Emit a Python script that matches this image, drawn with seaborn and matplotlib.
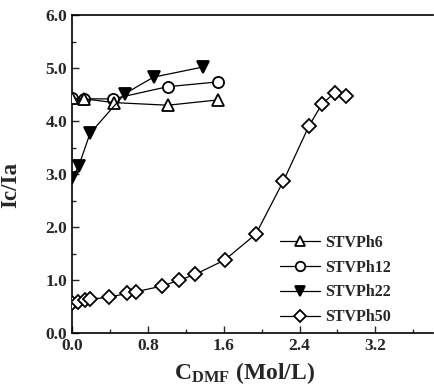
import numpy as np
import pandas as pd
import seaborn as sns
import matplotlib
matplotlib.use("Agg")
import matplotlib.pyplot as plt
from matplotlib.ticker import MultipleLocator

# Data
x_ph6 = [0.0, 0.13, 0.44, 1.01, 1.54]
y_ph6 = [4.43, 4.42, 4.35, 4.30, 4.40]

x_ph12 = [0.0, 0.13, 0.43, 1.01, 1.54]
y_ph12 = [4.44, 4.42, 4.42, 4.65, 4.74]

x_ph22 = [0.0, 0.07, 0.19, 0.56, 0.86, 1.38]
y_ph22 = [2.92, 3.15, 3.77, 4.52, 4.83, 5.02]

x_ph50 = [0.0, 0.06, 0.14, 0.19, 0.39, 0.58, 0.67, 0.95, 1.13, 1.30,
          1.61, 1.94, 2.23, 2.50, 2.64, 2.77, 2.89]
y_ph50 = [0.57, 0.58, 0.62, 0.64, 0.68, 0.75, 0.78, 0.89, 1.00, 1.11,
          1.38, 1.87, 2.87, 3.91, 4.33, 4.53, 4.48]

series_names = ["STVPh6", "STVPh12", "STVPh22", "STVPh50"]

frames = []
for name, xs, ys in zip(series_names, [x_ph6, x_ph12, x_ph22, x_ph50],
                        [y_ph6, y_ph12, y_ph22, y_ph50]):
    frames.append(pd.DataFrame({"x": xs, "y": ys, "series": name}))
df = pd.concat(frames, ignore_index=True)

sns.set_style("ticks")
plt.rcParams["font.family"] = ["Liberation Serif", "DejaVu Serif"]
plt.rcParams["font.weight"] = "bold"
plt.rcParams["mathtext.fontset"] = "custom"
plt.rcParams["mathtext.rm"] = "Liberation Serif:bold"
plt.rcParams["mathtext.it"] = "Liberation Serif:bold"
plt.rcParams["mathtext.bf"] = "Liberation Serif:bold"

fig = plt.figure(figsize=(4.34, 3.87), dpi=100)
ax = fig.add_axes([0.166, 0.139, 0.832, 0.822])

styles = {
    "STVPh6": dict(marker="^", mfc="white", ms=8.5, z=4),
    "STVPh12": dict(marker="o", mfc="white", ms=8, z=3),
    "STVPh22": dict(marker="v", mfc="black", ms=9, z=5),
    "STVPh50": dict(marker="D", mfc="white", ms=7.5, z=3),
}

for name in series_names:
    sub = df[df["series"] == name]
    st = styles[name]
    sns.lineplot(data=sub, x="x", y="y", ax=ax, color="black", lw=0.9,
                 marker=st["marker"], markersize=st["ms"],
                 markerfacecolor=st["mfc"], markeredgecolor="black",
                 markeredgewidth=1.3, label=name, sort=False, estimator=None,
                 zorder=st["z"])

ax.set_xlim(0, 3.81)
ax.set_ylim(0, 6.0)
ax.xaxis.set_minor_locator(MultipleLocator(0.4))
ax.yaxis.set_minor_locator(MultipleLocator(0.5))
ax.set_xticks([0.0, 0.8, 1.6, 2.4, 3.2])
ax.set_xticklabels(["0.0", "0.8", "1.6", "2.4", "3.2"])
ax.set_yticks([0, 1, 2, 3, 4, 5, 6])
ax.set_yticklabels(["0.0", "1.0", "2.0", "3.0", "4.0", "5.0", "6.0"])
ax.tick_params(axis="both", which="both", direction="in", labelsize=12.5,
               width=1.0)
ax.tick_params(which="major", length=5)
ax.tick_params(which="minor", length=3)
for lab in ax.get_xticklabels() + ax.get_yticklabels():
    lab.set_fontweight("bold")

for s in ["left", "bottom", "top"]:
    ax.spines[s].set_linewidth(1.2)
    ax.spines[s].set_color("black")
ax.spines["right"].set_visible(False)

ax.set_xlabel(r"C$_{\mathrm{DMF}}$ (Mol/L)", fontsize=17, fontweight="bold")
ax.xaxis.set_label_coords(0.478, -0.085)
ax.set_ylabel("Ic/Ia", fontsize=16.5, fontweight="heavy")
ax.yaxis.set_label_coords(-0.14, 0.465)

leg = ax.legend(loc="lower left", bbox_to_anchor=(0.535, -0.02), frameon=False,
                prop={"family": "Liberation Serif", "weight": "bold", "size": 11.5},
                handlelength=2.5, handletextpad=0.35, labelspacing=0.55,
                markerscale=0.85)

fig.savefig("out.png", dpi=100)
